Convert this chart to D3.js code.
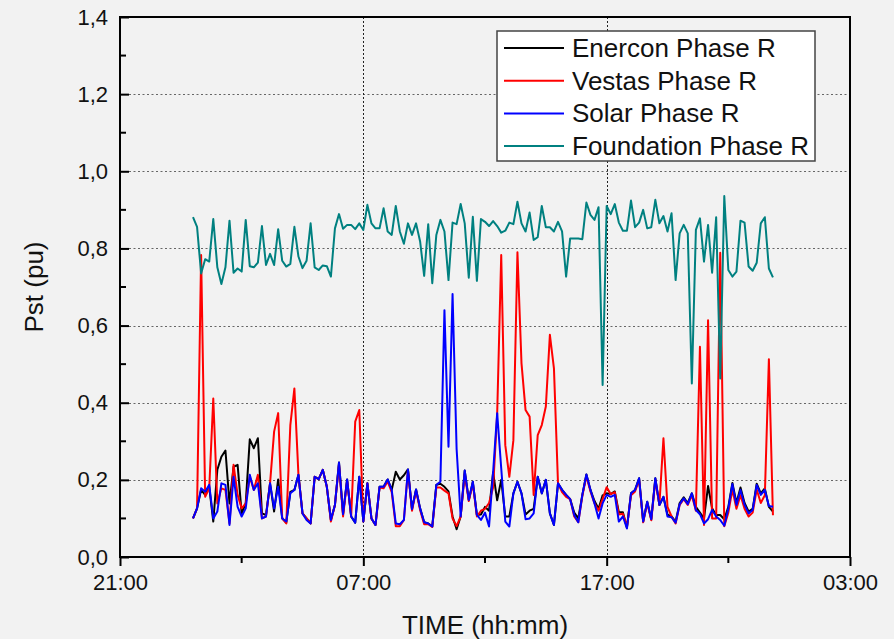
<!DOCTYPE html>
<html>
<head>
<meta charset="utf-8">
<script src="https://cdn.jsdelivr.net/npm/d3@7"></script>
<style>
  html, body { margin: 0; padding: 0; background: #f2f2f2; }
  svg { display: block; font-family: Arial, "Liberation Sans", sans-serif; }
</style>
</head>
<body>
<div id="chart"></div>
<script>
// 10-minute Pst readings, one day starting 00:00
const stepMinutes = 10;

const enercon = [
  0.100, 0.126, 0.174, 0.161, 0.182, 0.092, 0.226, 0.260, 0.276, 0.139,
  0.234, 0.239, 0.113, 0.139, 0.305, 0.282, 0.308, 0.113, 0.109, 0.191,
  0.118, 0.201, 0.100, 0.089, 0.169, 0.174, 0.213, 0.113, 0.100, 0.087,
  0.208, 0.202, 0.226, 0.182, 0.096, 0.135, 0.245, 0.111, 0.201, 0.105,
  0.089, 0.208, 0.092, 0.191, 0.100, 0.083, 0.182, 0.182, 0.201, 0.174,
  0.221, 0.201, 0.212, 0.227, 0.124, 0.175, 0.126, 0.090, 0.087, 0.079,
  0.187, 0.190, 0.182, 0.170, 0.105, 0.072, 0.105, 0.224, 0.148, 0.195,
  0.109, 0.110, 0.130, 0.120, 0.220, 0.147, 0.200, 0.105, 0.105, 0.165,
  0.195, 0.165, 0.110, 0.120, 0.125, 0.208, 0.165, 0.200, 0.113, 0.083,
  0.191, 0.174, 0.161, 0.150, 0.115, 0.100, 0.161, 0.214, 0.174, 0.145,
  0.125, 0.160, 0.165, 0.163, 0.170, 0.116, 0.116, 0.076, 0.165, 0.174,
  0.204, 0.092, 0.143, 0.098, 0.204, 0.135, 0.156, 0.110, 0.105, 0.092,
  0.140, 0.155, 0.140, 0.165, 0.130, 0.115, 0.100, 0.184, 0.126, 0.109,
  0.109, 0.098, 0.130, 0.192, 0.140, 0.180, 0.140, 0.118, 0.125, 0.190,
  0.165, 0.178, 0.130, 0.118
];

const vestas = [
  0.100, 0.126, 0.783, 0.156, 0.178, 0.411, 0.139, 0.178, 0.174, 0.087,
  0.239, 0.161, 0.126, 0.139, 0.208, 0.174, 0.213, 0.100, 0.105, 0.191,
  0.325, 0.373, 0.100, 0.087, 0.342, 0.437, 0.213, 0.113, 0.100, 0.087,
  0.208, 0.202, 0.226, 0.182, 0.092, 0.135, 0.240, 0.105, 0.198, 0.105,
  0.351, 0.381, 0.092, 0.191, 0.100, 0.083, 0.180, 0.178, 0.196, 0.168,
  0.080, 0.080, 0.096, 0.225, 0.120, 0.172, 0.122, 0.085, 0.085, 0.078,
  0.180, 0.180, 0.172, 0.165, 0.100, 0.080, 0.105, 0.215, 0.145, 0.190,
  0.105, 0.120, 0.125, 0.140, 0.180, 0.370, 0.783, 0.290, 0.208, 0.303,
  0.790, 0.502, 0.381, 0.364, 0.161, 0.316, 0.342, 0.390, 0.576, 0.489,
  0.191, 0.168, 0.156, 0.150, 0.105, 0.090, 0.158, 0.210, 0.170, 0.139,
  0.120, 0.150, 0.181, 0.163, 0.168, 0.110, 0.112, 0.078, 0.160, 0.170,
  0.200, 0.090, 0.140, 0.095, 0.200, 0.135, 0.308, 0.130, 0.105, 0.087,
  0.135, 0.150, 0.135, 0.160, 0.120, 0.545, 0.083, 0.614, 0.100, 0.100,
  0.789, 0.080, 0.115, 0.175, 0.125, 0.160, 0.125, 0.105, 0.115, 0.175,
  0.140, 0.160, 0.513, 0.108
];

const solar = [
  0.100, 0.126, 0.178, 0.169, 0.187, 0.100, 0.118, 0.191, 0.187, 0.083,
  0.208, 0.130, 0.105, 0.126, 0.213, 0.174, 0.191, 0.100, 0.105, 0.191,
  0.126, 0.182, 0.100, 0.092, 0.165, 0.174, 0.213, 0.113, 0.096, 0.087,
  0.208, 0.202, 0.226, 0.182, 0.096, 0.135, 0.245, 0.111, 0.201, 0.105,
  0.089, 0.208, 0.092, 0.191, 0.100, 0.083, 0.182, 0.182, 0.201, 0.174,
  0.087, 0.085, 0.096, 0.227, 0.124, 0.175, 0.126, 0.090, 0.087, 0.079,
  0.187, 0.195, 0.640, 0.286, 0.682, 0.280, 0.105, 0.224, 0.148, 0.195,
  0.109, 0.096, 0.115, 0.079, 0.220, 0.373, 0.230, 0.092, 0.079, 0.165,
  0.195, 0.165, 0.098, 0.100, 0.113, 0.208, 0.165, 0.200, 0.113, 0.083,
  0.191, 0.174, 0.161, 0.150, 0.109, 0.090, 0.161, 0.214, 0.174, 0.139,
  0.100, 0.139, 0.161, 0.156, 0.161, 0.092, 0.105, 0.074, 0.165, 0.174,
  0.204, 0.092, 0.143, 0.098, 0.204, 0.135, 0.156, 0.105, 0.103, 0.089,
  0.137, 0.152, 0.137, 0.165, 0.122, 0.111, 0.087, 0.098, 0.122, 0.105,
  0.096, 0.081, 0.126, 0.189, 0.135, 0.174, 0.135, 0.113, 0.122, 0.187,
  0.161, 0.174, 0.132, 0.130
];

const foundation = [
  0.881, 0.856, 0.735, 0.772, 0.766, 0.876, 0.751, 0.708, 0.751, 0.872,
  0.737, 0.748, 0.740, 0.874, 0.754, 0.751, 0.763, 0.858, 0.757, 0.786,
  0.757, 0.850, 0.768, 0.753, 0.760, 0.856, 0.779, 0.749, 0.768, 0.865,
  0.751, 0.744, 0.756, 0.754, 0.727, 0.852, 0.889, 0.851, 0.861, 0.861,
  0.850, 0.865, 0.848, 0.913, 0.865, 0.852, 0.852, 0.904, 0.844, 0.835,
  0.910, 0.844, 0.812, 0.865, 0.835, 0.865, 0.818, 0.729, 0.863, 0.710,
  0.835, 0.874, 0.844, 0.718, 0.867, 0.863, 0.915, 0.865, 0.724, 0.882,
  0.716, 0.876, 0.869, 0.858, 0.871, 0.858, 0.841, 0.846, 0.867, 0.863,
  0.921, 0.865, 0.844, 0.893, 0.822, 0.829, 0.910, 0.855, 0.855, 0.844,
  0.869, 0.844, 0.727, 0.826, 0.826, 0.826, 0.824, 0.919, 0.887, 0.874,
  0.907, 0.446, 0.910, 0.889, 0.915, 0.867, 0.846, 0.846, 0.924, 0.855,
  0.867, 0.900, 0.852, 0.855, 0.926, 0.865, 0.884, 0.844, 0.891, 0.718,
  0.839, 0.861, 0.839, 0.450, 0.848, 0.878, 0.766, 0.861, 0.737, 0.881,
  0.463, 0.936, 0.744, 0.727, 0.740, 0.872, 0.867, 0.753, 0.742, 0.763,
  0.865, 0.881, 0.748, 0.725
];

const seriesNames = [
  "Enercon Phase R",
  "Vestas Phase R",
  "Solar Phase R",
  "Foundation Phase R",
];
const seriesColors = ["#000000", "#ff0000", "#0000ff", "#008080"];

// axis: hours relative to midnight of the measured day
const xMajorTicks = [-3, 7, 17, 27];
const xMinorTicks = [2, 12, 22];
const yMajorTicks = [0, 0.2, 0.4, 0.6, 0.8, 1.0, 1.2, 1.4];
const yMinorTicks = [0.1, 0.3, 0.5, 0.7, 0.9, 1.1, 1.3];

const xLabel = "TIME (hh:mm)";
const yLabel = "Pst (pu)";

const W = 894,
  H = 639;
const margin = { top: 17, right: 44, bottom: 82, left: 120 };
const width = W - margin.left - margin.right,
  height = H - margin.top - margin.bottom;

const svg = d3
  .select("#chart")
  .append("svg")
  .attr("width", W)
  .attr("height", H);

svg.append("rect").attr("width", W).attr("height", H).attr("fill", "#f2f2f2");

const g = svg
  .append("g")
  .attr("transform", `translate(${margin.left}, ${margin.top})`);

const x = d3.scaleLinear().domain([-3, 27]).range([0, width]);
const y = d3.scaleLinear().domain([0, 1.4]).range([height, 0]);

const fmtTime = (h) => {
  const hh = ((h % 24) + 24) % 24;
  return String(hh).padStart(2, "0") + ":00";
};
const fmtComma = (v) => d3.format(".1f")(v).replace(".", ",");

// grid (dotted)
g.append("g")
  .attr("class", "grid-y")
  .selectAll("line")
  .data(yMajorTicks.filter((d) => d > 0 && d < 1.4))
  .join("line")
  .attr("x1", 0)
  .attr("x2", width)
  .attr("y1", (d) => Math.round(y(d)) + 0.5)
  .attr("y2", (d) => Math.round(y(d)) + 0.5)
  .attr("stroke", "#666")
  .attr("stroke-width", 1)
  .attr("stroke-dasharray", "2,2.5");

g.append("g")
  .attr("class", "grid-x")
  .selectAll("line")
  .data(xMajorTicks.filter((d) => d > -3 && d < 27))
  .join("line")
  .attr("x1", (d) => Math.round(x(d)) + 0.5)
  .attr("x2", (d) => Math.round(x(d)) + 0.5)
  .attr("y1", 0)
  .attr("y2", height)
  .attr("stroke", "#222")
  .attr("stroke-width", 1)
  .attr("stroke-dasharray", "2,2");

// series
const times = foundation.map((_, i) => (i * stepMinutes) / 60);
const allSeries = [enercon, vestas, solar, foundation];

const line = d3
  .line()
  .x((d, i) => x(times[i]))
  .y((d) => y(d));

g.append("g")
  .attr("class", "series")
  .selectAll("path")
  .data(allSeries)
  .join("path")
  .attr("d", (d) => line(d))
  .attr("fill", "none")
  .attr("stroke", (d, i) => seriesColors[i])
  .attr("stroke-width", 2)
  .attr("stroke-linejoin", "round");

// axes
const xAxis = g
  .append("g")
  .attr("transform", `translate(0, ${height})`)
  .call(d3.axisBottom(x).tickValues(xMajorTicks).tickFormat(fmtTime).tickSize(9).tickPadding(8));
xAxis
  .selectAll(".minor")
  .data(xMinorTicks)
  .join("line")
  .attr("class", "minor")
  .attr("x1", (d) => x(d))
  .attr("x2", (d) => x(d))
  .attr("y1", 0)
  .attr("y2", 6)
  .attr("stroke", "#000")
  .attr("stroke-width", 2);

const yAxis = g
  .append("g")
  .call(d3.axisLeft(y).tickValues(yMajorTicks).tickFormat(fmtComma).tickSize(-9).tickPadding(12));
yAxis
  .selectAll(".minor")
  .data(yMinorTicks)
  .join("line")
  .attr("class", "minor")
  .attr("x1", 0)
  .attr("x2", 6)
  .attr("y1", (d) => y(d))
  .attr("y2", (d) => y(d))
  .attr("stroke", "#000")
  .attr("stroke-width", 2);

[xAxis, yAxis].forEach((a) => {
  a.select(".domain").remove();
  a.selectAll(".tick line").attr("stroke", "#000").attr("stroke-width", 2);
  a.selectAll(".tick text")
    .attr("fill", "#111")
    .style("font-size", "22px")
    .style("font-family", "Arial, 'Liberation Sans', sans-serif");
});

// frame
g.append("rect")
  .attr("width", width)
  .attr("height", height)
  .attr("fill", "none")
  .attr("stroke", "#000")
  .attr("stroke-width", 2);

// axis titles
svg
  .append("text")
  .attr("x", margin.left + x(12))
  .attr("y", 634)
  .attr("text-anchor", "middle")
  .style("font-size", "26px")
  .attr("fill", "#111")
  .text(xLabel);

svg
  .append("text")
  .attr("transform", `translate(43, ${margin.top + height / 2}) rotate(-90)`)
  .attr("text-anchor", "middle")
  .style("font-size", "26px")
  .attr("fill", "#111")
  .text(yLabel);

// legend
const legend = svg.append("g").attr("transform", "translate(497, 31)");
legend
  .append("rect")
  .attr("width", 318)
  .attr("height", 130)
  .attr("fill", "#fff")
  .attr("stroke", "#444")
  .attr("stroke-width", 1.5);

const rows = legend
  .selectAll("g.row")
  .data(seriesNames)
  .join("g")
  .attr("class", "row")
  .attr("transform", (d, i) => `translate(0, ${17 + i * 32.7})`);
rows
  .append("line")
  .attr("x1", 7)
  .attr("x2", 67)
  .attr("stroke", (d, i) => seriesColors[i])
  .attr("stroke-width", 2);
rows
  .append("text")
  .attr("x", 75)
  .attr("y", 9)
  .style("font-size", "26px")
  .attr("fill", "#111")
  .text((d) => d);
</script>
</body>
</html>
